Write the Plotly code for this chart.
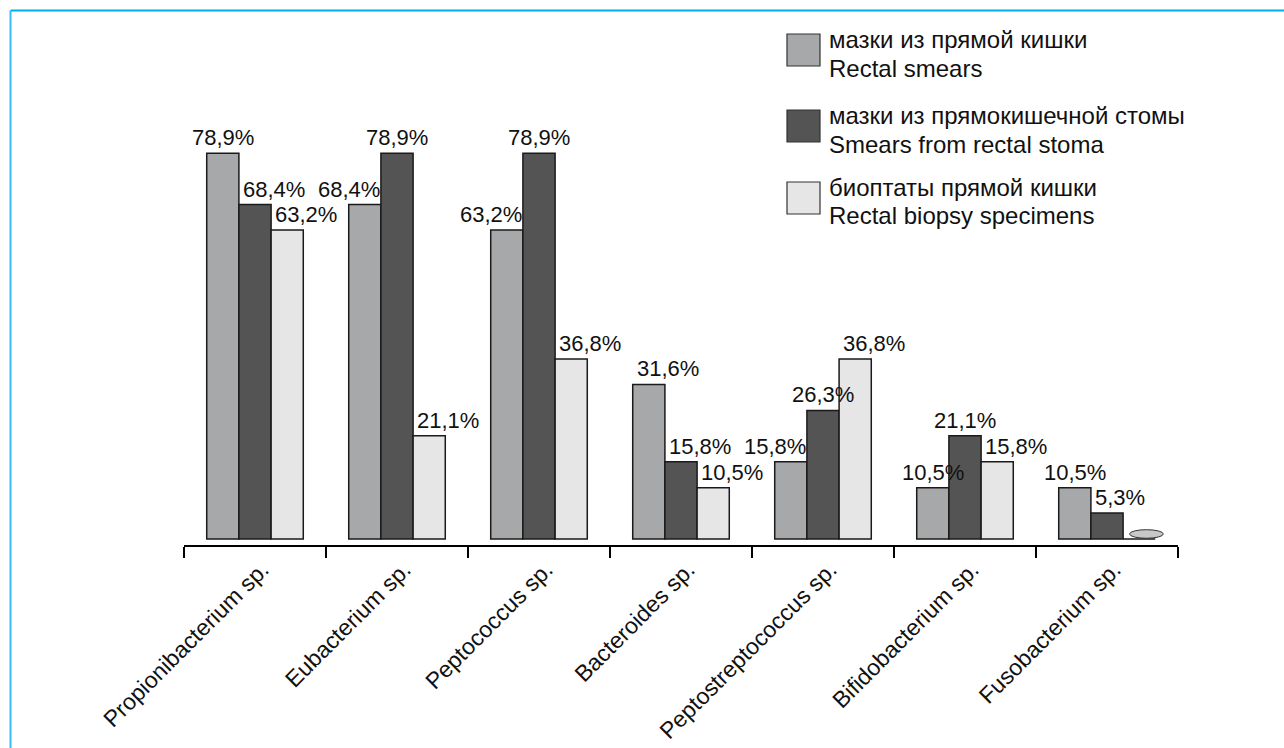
import plotly.graph_objects as go

categories = ["Propionibacterium sp.", "Eubacterium sp.", "Peptococcus sp.", "Bacteroides sp.",
              "Peptostreptococcus sp.", "Bifidobacterium sp.", "Fusobacterium sp."]
rectal_smears = [78.9, 68.4, 63.2, 31.6, 15.8, 10.5, 10.5]
stoma_smears = [68.4, 78.9, 78.9, 15.8, 26.3, 21.1, 5.3]
biopsy = [63.2, 21.1, 36.8, 10.5, 36.8, 15.8, 0.0]
legend_ru = ["мазки из прямой кишки", "мазки из прямокишечной стомы", "биоптаты прямой кишки"]
legend_en = ["Rectal smears", "Smears from rectal stoma", "Rectal biopsy specimens"]
series_values = [rectal_smears, stoma_smears, biopsy]

# styling (not data)
colors = ["#A7A8AA", "#545454", "#E6E6E6"]
label_align = [
    ["center", "right", "right", "left", "right", "center", "center"],
    ["left", "center", "center", "left", "center", "center", "left"],
    ["left", "left", "left", "left", "left", "left", "left"],
]

W, H = 1284, 748
ML, MR, MT, MB = 184, 106, 20, 203
PW, PH = W - ML - MR, H - MT - MB
FONT = "Liberation Sans, Arial, sans-serif"
BARGAP = 0.32
PX_PER_UNIT = 4.89
Y0 = -1.23


def px2x(px):
    return (px - ML) / PW


def px2y(py):
    return (H - MB - py) / PH


def fmt(v):
    return f"{v:.1f}".replace(".", ",") + "%"


xs = list(range(len(categories)))
n = len(series_values)
bw = (1 - BARGAP) / n
bw_px = bw * PW / len(categories)

fig = go.Figure()
for k, (name, vals, col) in enumerate(zip(legend_en, series_values, colors)):
    fig.add_trace(go.Bar(
        x=xs, y=vals, name=name, marker=dict(color=col, line=dict(color="#1a1a1a", width=1.5)),
        showlegend=False,
    ))
    for i, v in enumerate(vals):
        if v == 0:
            continue
        a = label_align[k][i]
        shift = {"center": 0, "left": -bw_px / 2 + 2, "right": bw_px / 2 + 1}[a]
        fig.add_annotation(x=i + (k - 1) * bw, y=v, xref="x", yref="y", text=fmt(v), showarrow=False,
                           xanchor=a, yanchor="bottom", xshift=shift, yshift=1,
                           font=dict(family=FONT, size=22, color="#111"))

# zero value drawn as flat ellipse (Fusobacterium biopsy)
for i, v in enumerate(biopsy):
    if v == 0:
        c = i + bw
        fig.add_shape(type="circle", xref="x", yref="y", x0=c - bw * 0.3, x1=c + bw * 0.75,
                      y0=v + 0.15, y1=v + 1.9, fillcolor="#C8C8C8", line=dict(color="#333", width=1))

# legend (manual, large swatches)
leg_centers = [50, 126, 198]
for ru, en, col, cy in zip(legend_ru, legend_en, colors, leg_centers):
    fig.add_shape(type="rect", xref="paper", yref="paper", x0=px2x(787), x1=px2x(820),
                  y0=px2y(cy + 16), y1=px2y(cy - 16), fillcolor=col, line=dict(color="#333", width=1.2))
    for txt, dy in ((ru, -10), (en, 18)):
        fig.add_annotation(xref="paper", yref="paper", x=px2x(827), y=px2y(cy + dy), xanchor="left",
                           yanchor="middle", text=txt, showarrow=False, align="left",
                           font=dict(family=FONT, size=24, color="#111"))

# blue frame
fig.add_shape(type="line", xref="paper", yref="paper", x0=px2x(10.5), x1=px2x(W), y0=px2y(10.5), y1=px2y(10.5),
              line=dict(color="#00AEEF", width=2))
fig.add_shape(type="line", xref="paper", yref="paper", x0=px2x(10.5), x1=px2x(10.5), y0=px2y(10.5), y1=px2y(H),
              line=dict(color="#33BDF2", width=2))

fig.update_layout(
    width=W, height=H, margin=dict(l=ML, r=MR, t=MT, b=MB),
    paper_bgcolor="white", plot_bgcolor="white",
    barmode="group", bargap=BARGAP, bargroupgap=0,
    font=dict(family=FONT, size=21, color="#111"),
    xaxis=dict(range=[-0.5, len(categories) - 0.5], tickvals=[i + 0.05 for i in xs], ticktext=categories,
               tickangle=-45, ticks="", showline=True, linecolor="black", linewidth=2, automargin=False,
               showgrid=False, zeroline=False, tickfont=dict(family=FONT, size=23, color="#111"),
               minor=dict(tickmode="array", tickvals=[i - 0.5 for i in range(len(categories) + 1)],
                          ticks="outside", ticklen=11, tickwidth=2, tickcolor="black", showgrid=False)),
    yaxis=dict(range=[Y0, PH / PX_PER_UNIT + Y0], visible=False, showgrid=False, zeroline=False,
               automargin=False),
)

fig.write_html("out.html")
